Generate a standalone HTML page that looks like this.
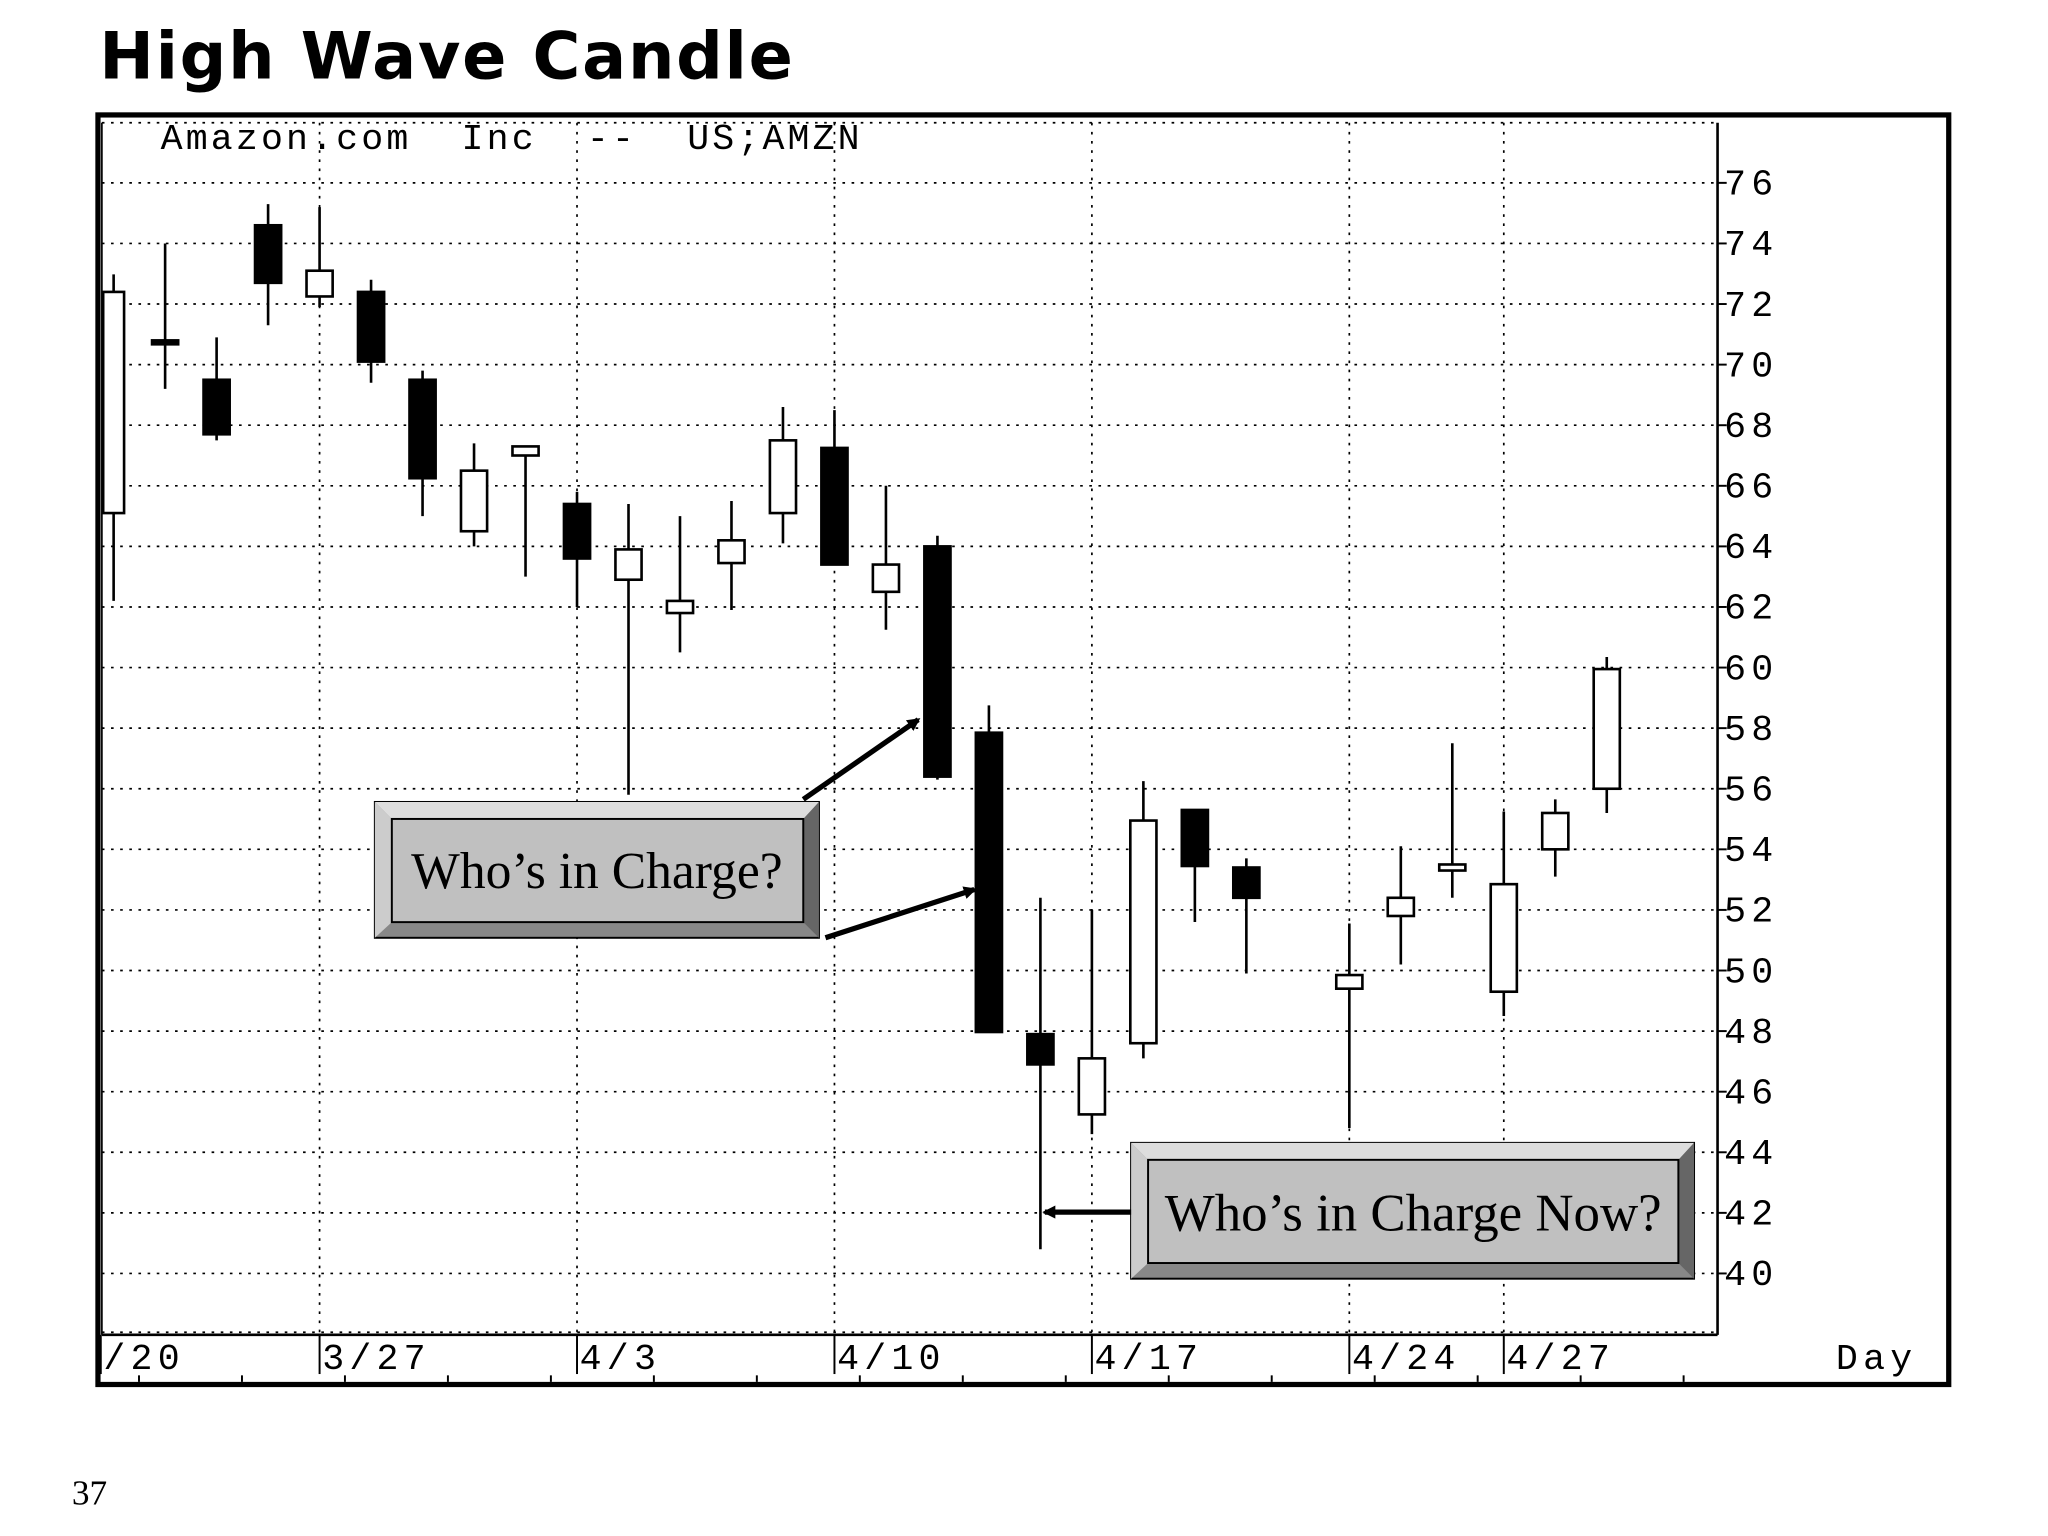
<!DOCTYPE html>
<html>
<head>
<meta charset="utf-8">
<style>
html,body{margin:0;padding:0;background:#fff;}
svg{display:block;}
.mono{font-family:"Liberation Mono","DejaVu Sans Mono",monospace;}
</style>
</head>
<body>
<svg id="chart" width="2048" height="1536" viewBox="0 0 1568 1176" xmlns="http://www.w3.org/2000/svg">
  <text x="76" y="60" font-family="'DejaVu Sans','Liberation Sans',sans-serif" font-weight="bold" font-size="50" letter-spacing="1.3">High Wave Candle</text>
  <rect x="75" y="88" width="1417" height="972" fill="#fff" stroke="#000" stroke-width="4"/>
  <g id="grid"></g>
  <g id="candles"></g>
  <g id="axes"></g>
  <text class="mono" x="123" y="114" font-size="28" letter-spacing="2.4" xml:space="preserve">Amazon.com  Inc  --  US;AMZN</text>

  <g>
    <rect x="287" y="614" width="340" height="104" fill="#888" stroke="#000" stroke-width="1.5"/>
    <polygon points="287,614 627,614 615,627 300,627" fill="#ddd"/>
    <polygon points="287,614 300,627 300,706 287,718" fill="#ccc"/>
    <polygon points="627,614 627,718 615,706 615,627" fill="#666"/>
    <rect x="300" y="627" width="315" height="79" fill="#c0c0c0" stroke="#000" stroke-width="1.5"/>
    <text x="457" y="680" text-anchor="middle" font-family="'Liberation Serif',serif" font-size="39.5">Who’s in Charge?</text>
  </g>
  <g>
    <rect x="866" y="875" width="431" height="104" fill="#888" stroke="#000" stroke-width="1.5"/>
    <polygon points="866,875 1297,875 1285,888 879,888" fill="#ddd"/>
    <polygon points="866,875 879,888 879,967 866,979" fill="#ccc"/>
    <polygon points="1297,875 1297,979 1285,967 1285,888" fill="#666"/>
    <rect x="879" y="888" width="406" height="79" fill="#c0c0c0" stroke="#000" stroke-width="1.5"/>
    <text x="1082" y="942" text-anchor="middle" font-family="'Liberation Serif',serif" font-size="40.5">Who’s in Charge Now?</text>
  </g>
  <defs>
    <marker id="ah" markerWidth="10" markerHeight="10" refX="8" refY="5" orient="auto" markerUnits="userSpaceOnUse">
      <path d="M0,0 L10,5 L0,10 z" fill="#000"/>
    </marker>
  </defs>
  <line x1="615" y1="612" x2="703" y2="551" stroke="#000" stroke-width="4" marker-end="url(#ah)"/>
  <line x1="632" y1="718" x2="746" y2="681" stroke="#000" stroke-width="4" marker-end="url(#ah)"/>
  <line x1="866" y1="928" x2="800" y2="928" stroke="#000" stroke-width="4" marker-end="url(#ah)"/>

  <text x="55" y="1152" font-family="'Liberation Serif',serif" font-size="27">37</text>
</svg>
<script>
const slots = [0,1,2,3,4,5,6,7,8,9,10,11,12,13,14,15,16,17,18,19,20,21,22,24,25,26,27,28,29];
const opens  = [65.1,70.8,69.5,74.6,72.25,72.4,69.5,64.5,67.0,65.4,62.9,61.8,63.45,65.1,67.25,62.5,64.0,57.85,47.9,45.25,47.6,55.3,53.4,49.4,51.8,53.3,49.3,54.0,56.0];
const closes = [72.4,70.8,67.7,72.7,73.1,70.1,66.25,66.5,67.3,63.6,63.9,62.2,64.2,67.5,63.4,63.4,56.4,47.97,46.9,47.1,54.95,53.45,52.4,49.85,52.4,53.5,52.85,55.2,59.95];
const highs  = [72.98,74.0,70.9,75.3,75.2,72.8,69.8,67.4,67.3,65.8,65.4,65.0,65.5,68.6,68.5,66.0,64.35,58.75,52.4,52.0,56.25,55.3,53.7,51.55,54.1,57.5,55.25,55.65,60.35];
const lows   = [62.2,69.2,67.5,71.3,71.9,69.4,65.0,64.0,63.0,62.0,55.8,60.5,61.9,64.1,63.4,61.25,56.3,47.97,40.8,44.6,47.1,51.6,49.9,44.8,50.2,52.4,48.5,53.1,55.2];
const yTicks = [40,42,44,46,48,50,52,54,56,58,60,62,64,66,68,70,72,74,76];
const xLabels = ["/20","3/27","4/3","4/10","4/17","4/24","4/27","Day"];
const xLabelSlots = [-0.25,4,9,14,19,24,27,33.4];

const NS="http://www.w3.org/2000/svg";
const PL=78, PR=1315, PT=94, PB=1022;
function y(p){return 140+(76-p)*23.194;}
function x(s){return 87+39.42*s;}
function mk(tag,attrs,parent){const e=document.createElementNS(NS,tag);for(const k in attrs)e.setAttribute(k,attrs[k]);parent.appendChild(e);return e;}
const grid=document.getElementById('grid'), cg=document.getElementById('candles'), ax=document.getElementById('axes');

yTicks.forEach(v=>{
  const yy=y(v);
  const l=mk('line',{x1:PL,x2:PR,y1:yy,y2:yy,stroke:'#000','stroke-width':1.3,'stroke-dasharray':'2,5'},grid);
  
  
});
mk('line',{x1:PL,x2:PR,y1:1020,y2:1020,stroke:'#000','stroke-width':1.3,'stroke-dasharray':'2,5'},grid);
[4,9,14,19,24,27].forEach(s=>{
  const xx=x(s);
  const l=mk('line',{x1:xx,x2:xx,y1:PT,y2:PB,stroke:'#000','stroke-width':1.3,'stroke-dasharray':'2,5'},grid);
  
  
});
mk('line',{x1:PR,x2:PR,y1:PT,y2:PB,stroke:'#000','stroke-width':2},ax);
mk('line',{x1:PL,x2:PR,y1:PB,y2:PB,stroke:'#000','stroke-width':2},ax);
mk('line',{x1:PL,x2:PR,y1:PT,y2:PT,stroke:'#000','stroke-width':1.3,'stroke-dasharray':'2,5'},ax);
mk('line',{x1:PL,x2:PL,y1:PT,y2:PB,stroke:'#000','stroke-width':1.3},ax);

yTicks.forEach(v=>{
  const yy=y(v);
  mk('line',{x1:PR,x2:PR+7,y1:yy,y2:yy,stroke:'#000','stroke-width':1.5},ax);
  const t=mk('text',{x:PR+5,y:yy+9,'font-size':28,'letter-spacing':4,'class':'mono'},ax);
  
  
  t.textContent=v;
});
xLabels.forEach((lab,i)=>{
  const xx=x(xLabelSlots[i]);
  if(lab!=="Day") mk('line',{x1:xx,x2:xx,y1:PB,y2:1052,stroke:'#000','stroke-width':1.5},ax);
  const t=mk('text',{x:Math.max(xx+2,78),y:1048,'font-size':28,'letter-spacing':4,'class':'mono'},ax);
  
  
  t.textContent=lab;
});
for(let s=1;s<=31;s+=2){const xx=x(s)-20;mk('line',{x1:xx,x2:xx,y1:1053,y2:1058,stroke:'#000','stroke-width':1.5},ax);}

const bw=20;
slots.forEach((s,i)=>{
  const g=mk('g',{},cg);
  
  
  const cx=x(s);
  mk('line',{x1:cx,x2:cx,y1:y(highs[i]),y2:y(lows[i]),stroke:'#000','stroke-width':2},g);
  const top=y(Math.max(opens[i],closes[i])), bot=y(Math.min(opens[i],closes[i]));
  const white=closes[i]>opens[i];
  const h=Math.max(bot-top,3);
  let lx=cx-bw/2, w=bw;
  if(s===0){lx=PL+1; w=cx+bw/2-lx-2;}
  mk('rect',{x:lx,y:top,width:w,height:h,fill:white?'#fff':'#000',stroke:'#000','stroke-width':2},g);
});
</script>
</body>
</html>
